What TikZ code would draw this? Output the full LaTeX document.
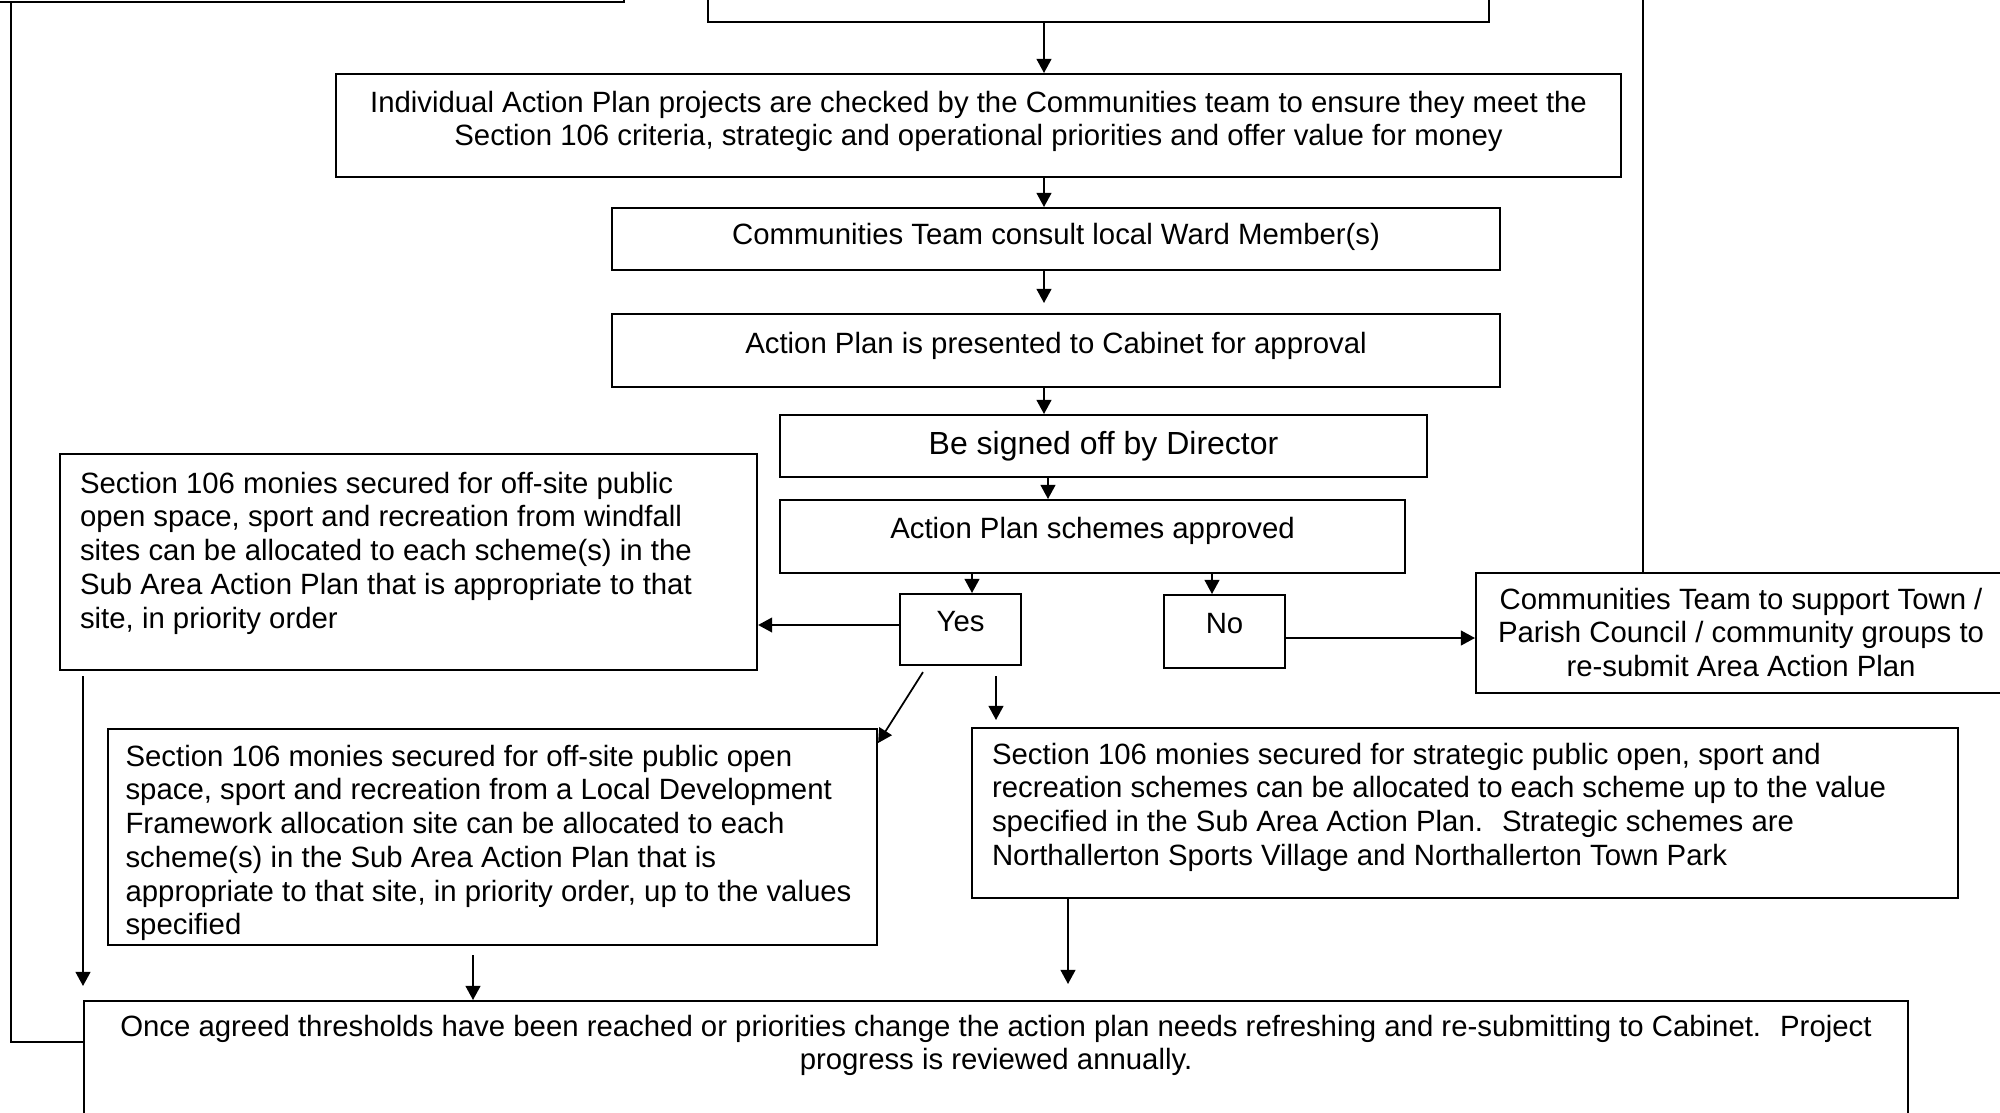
\documentclass[tikz,border=0pt]{standalone}
\usepackage{fontspec}
\setmainfont{Liberation Sans}
\usetikzlibrary{arrows.meta}

\begin{document}
\begin{tikzpicture}[x=0.1mm,y=-0.1mm,
  box/.style={rectangle,draw,line width=0.6pt,inner ysep=0pt,inner xsep=1mm,
    anchor=north west,font=\fontsize{8.35}{9.6}\selectfont,
    align=flush center,text height=3.7mm},
  note/.style={box,inner xsep=2mm,align=flush left},
  arr/.style={line width=0.5pt,-{Triangle[length=4pt,width=4.2pt]}},
  link/.style={line width=0.5pt}]
    \useasboundingbox (0,0) rectangle (2000,1113);
    \clip (0,0) rectangle (2000,1113);
    % Boxes cut off at the top
    \node[box,anchor=south east,minimum width=80mm,minimum height=5mm] (prev) at (625,3) {};
    \node[box,anchor=south west,minimum width=78.1mm,minimum height=5mm] (top) at (707,23) {};
    % Approval chain
    \node[box,text width=126.5mm,text height=3.8mm,text depth=6.5mm] (check) at (335,73)
      {Individual Action Plan projects are checked by the Communities team to ensure they meet the\\
       Section 106 criteria, strategic and operational priorities and offer value for money};
    \node[box,text width=86.8mm,text height=3.6mm,text depth=2.6mm] (ward) at (611,207)
      {Communities Team consult local Ward Member(s)};
    \node[box,text width=86.8mm,text height=3.9mm,text depth=3.4mm] (cabinet) at (611,313)
      {Action Plan is presented to Cabinet for approval};
    \node[box,text width=62.7mm,text height=3.9mm,text depth=2.3mm,
      font=\fontsize{9.1}{11}\selectfont] (director) at (779,414) {Be signed off by Director};
    \node[box,text width=60.5mm,text height=3.8mm,text depth=3.5mm] (approved) at (779,499)
      {Action Plan schemes approved};
    % Decision
    \node[box,text width=10.1mm,text height=3.7mm,text depth=3.4mm] (yes) at (899,593) {Yes};
    \node[box,text width=10.1mm,text height=3.8mm,text depth=3.5mm] (no) at (1163,594) {No};
    \node[box,text width=51mm,text height=3.6mm,text depth=8.4mm] (resubmit) at (1475,572)
      {Communities Team to support Town /\\ Parish Council / community groups to\\ re-submit Area Action Plan};
    % Allocation of monies
    \node[note,text width=65.7mm,text height=3.9mm,text depth=17.7mm] (windfall) at (59,453)
      {Section 106 monies secured for off-site public\\
       open space, sport and recreation from windfall\\
       sites can be allocated to each scheme(s) in the\\
       Sub Area Action Plan that is appropriate to that\\
       site, in priority order};
    \node[note,inner xsep=1.75mm,text width=73.4mm,text height=3.7mm,text depth=17.9mm] (ldf) at (107,728)
      {Section 106 monies secured for off-site public open\\
       space, sport and recreation from a Local Development\\
       Framework allocation site can be allocated to each\\
       scheme(s) in the Sub Area Action Plan that is\\
       appropriate to that site, in priority order, up to the values\\
       specified};
    \node[note,text width=94.6mm,text height=3.6mm,text depth=13.4mm] (strategic) at (971,727)
      {Section 106 monies secured for strategic public open, sport and\\
       recreation schemes can be allocated to each scheme up to the value\\
       specified in the Sub Area Action Plan.~ Strategic schemes are\\
       Northallerton Sports Village and Northallerton Town Park};
    % Review
    \node[box,text width=180.4mm,text height=3.5mm,text depth=11.5mm] (review) at (83,1000)
      {Once agreed thresholds have been reached or priorities change the action plan needs refreshing and re-submitting to Cabinet.~ Project\\
       progress is reviewed annually.};
    % Connectors
    \coordinate (spine) at (1044,0);
    \coordinate (offtop) at (1643,-20);
    \draw[arr] (top.south -| spine) -- (check.north -| spine);
    \draw[arr] (check.south -| spine) -- (ward.north -| spine);
    \draw[arr,shorten >=1mm] (ward.south -| spine) -- (cabinet.north -| spine);
    \draw[arr] (cabinet.south -| spine) -- (director.north -| spine);
    \draw[arr] (director.south -| 1048,0) -- (approved.north -| 1048,0);
    \draw[arr] (approved.south -| 972,0) -- (yes.north -| 972,0);
    \draw[arr] (approved.south -| 1212,0) -- (no.north -| 1212,0);
    \draw[arr] (yes.west |- 0,625) -- (windfall.east |- 0,625);
    \draw[arr] (no.east |- 0,638) -- (resubmit.west |- 0,638);
    \draw[arr] ([xshift=2.4mm,yshift=-0.6mm]yes.south west) -- ([yshift=-1.5mm]ldf.north east);
    \draw[arr,shorten <=1mm,shorten >=0.7mm] (yes.south -| 996,0) -- (strategic.north -| 996,0);
    \draw[arr,shorten <=0.5mm,shorten >=1.4mm] (windfall.south -| review.west) -- (review.north west);
    \draw[arr,shorten <=0.9mm] (ldf.south -| 473,0) -- (review.north -| 473,0);
    \draw[arr,shorten >=1.6mm] (strategic.south -| 1068,0) -- (review.north -| 1068,0);
    % Loops back
    \draw[link] (review.west |- 0,1042) -| (prev.south -| 11,0);
    \draw[link] (resubmit.north -| offtop) -- (offtop);
\end{tikzpicture}
\end{document}
